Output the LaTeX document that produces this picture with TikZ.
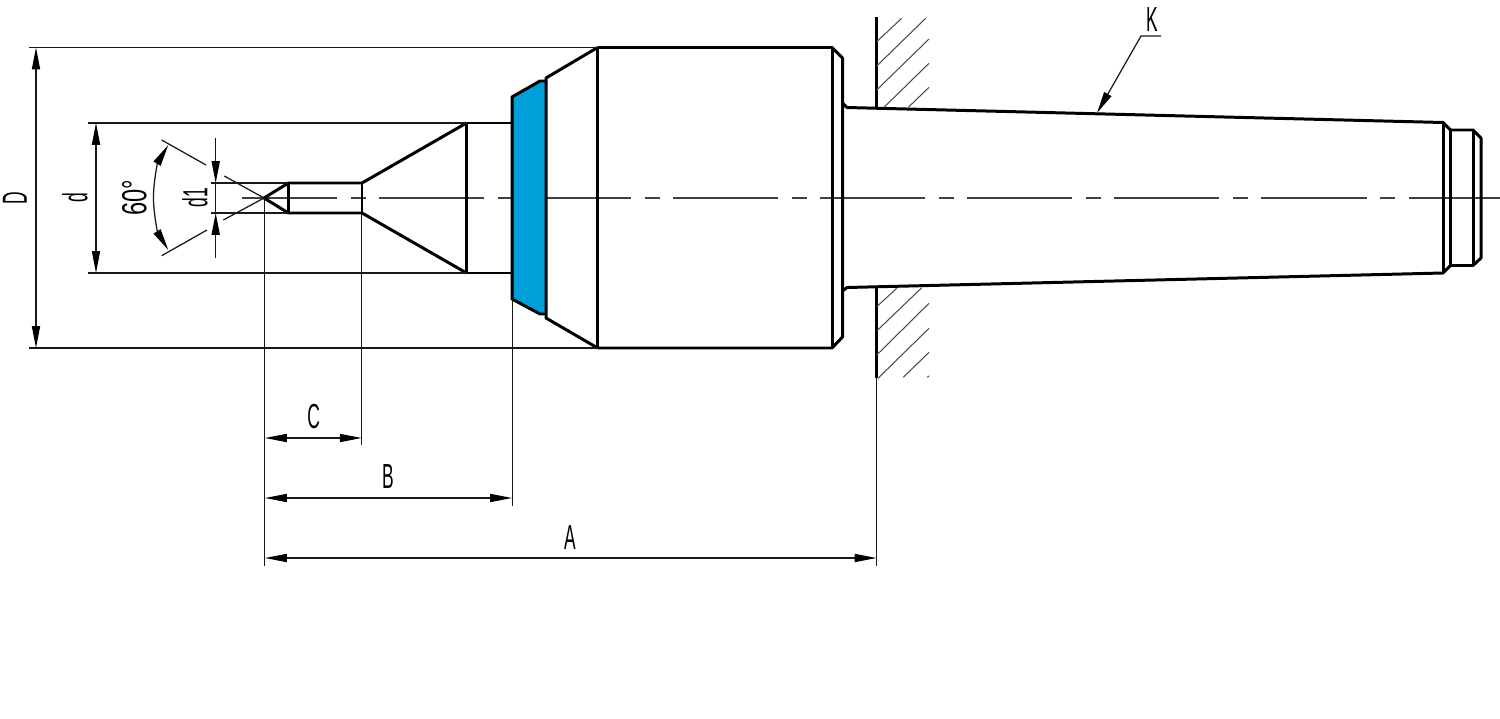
\documentclass[tikz,border=0pt]{standalone}
\usepackage{fontspec}
\setsansfont{Liberation Sans}
\usetikzlibrary{calc}
\usetikzlibrary{arrows.meta}
\definecolor{ringblue}{HTML}{009FDA}
\tikzset{
  outline/.style = {line width=0.85pt, line join=round},
  thinline/.style = {line width=0.36pt, draw=black!90},
  hatchline/.style = {line width=0.3pt, draw=black!70},
  dimarrow/.style = {thinline, {Triangle[length=6.2pt,width=2.3pt,black]}-{Triangle[length=6.2pt,width=2.3pt,black]}},
  dimtip/.style = {thinline, -{Triangle[length=6.2pt,width=2.3pt,black]}},
  axisline/.style = {line width=0.36pt, draw=black!75, dash pattern=on 29.87pt off 3.84pt on 4.27pt off 3.84pt, dash phase=2.84pt},
  dimlabel/.style = {font=\sffamily\fontsize{9.9}{12}\selectfont, xscale=0.5, inner sep=0pt},
  anglelabel/.style = {font=\sffamily\fontsize{9.9}{12}\selectfont, xscale=0.68, inner sep=0pt}
}
\begin{document}
\begin{tikzpicture}[x=0.01cm, y=-0.01cm]
  \useasboundingbox (0, 0) rectangle (1500, 718);

  % axis
  \draw[axisline] (242, 198) -- (1500, 198);

  % blue ring
  \fill[ringblue] (512, 97) -- (540, 81) -- (546, 81) -- (546, 314) -- (540, 314) -- (512, 299) -- cycle;

  % live centre, tip to flange
  \draw[outline] (466.5, 123) -- (362, 183) -- (288.4, 183) -- (264, 198) -- (288.4, 213) -- (362, 213) -- (466.5, 273);
  \draw[outline] (288.4, 183) -- (288.4, 213);
  \draw[outline] (362, 183) -- (362, 213);
  \draw[outline] (466.5, 123) -- (466.5, 273);
  \draw[outline] (466.5, 123) -- (512, 123);
  \draw[outline] (466.5, 273) -- (512, 273);
  \draw[outline] (546, 81) -- (540, 81) -- (512, 97) -- (512, 299) -- (540, 314) -- (546, 314);
  \draw[outline] (597.6, 47.5) -- (546, 78) -- (546, 318) -- (597.6, 348);
  \draw[outline] (597.6, 47.5) -- (597.6, 348);
  \draw[outline] (597.6, 47.5) -- (832, 47.5) -- (842.5, 58) -- (842.5, 337) -- (832, 348) -- (597.6, 348);
  \draw[outline] (832, 47.5) -- (832, 348);

  % taper
  \draw[outline] (842.5, 103) -- (847, 107.5) -- (1443, 122.5) -- (1450.5, 130) -- (1473, 130) -- (1481, 138) -- (1481, 258) -- (1473, 265.5) -- (1450.5, 265.5) -- (1443, 273) -- (847, 287.5) -- (842.5, 291);
  \draw[outline] (1443, 122.5) -- (1443, 273);
  \draw[outline] (1450.5, 130) -- (1450.5, 265.5);
  \draw[outline] (1473, 130) -- (1473, 265.5);

  % wall
  \draw[outline] (876.5, 17) -- (876.5, 107.5);
  \draw[outline] (876.5, 288) -- (876.5, 378);
  \foreach \xa/\ya/\xb/\yb in {
    876.7/41.7/901.7/18.3, 876.7/66/925.7/18.3, 876.7/90/929/39,
    884/107.3/929/63.3, 908.3/107.3/929/87.3,
    876.7/306.7/896.7/288.3, 876.7/331/921.7/287.7, 876.7/355/929/303.3,
    878/378.3/929/328.3, 903.3/377.3/929/352.3, 927.3/377.3/929/376}
    \draw[hatchline] (\xa, \ya) -- (\xb, \yb);

  % extension lines
  \draw[thinline] (29, 47.5) -- (597.6, 47.5);
  \draw[thinline] (29, 348) -- (597.6, 348);
  \draw[thinline] (88, 123) -- (466.5, 123);
  \draw[thinline] (88, 273) -- (466.5, 273);
  \draw[thinline] (211, 183) -- (288.4, 183);
  \draw[thinline] (211, 213) -- (288.4, 213);
  \draw[thinline] (264.5, 198) -- (264.5, 566);
  \draw[thinline] (361.7, 213) -- (361.7, 445);
  \draw[thinline] (512.5, 299) -- (512.5, 506);
  \draw[thinline] (876.5, 378) -- (876.5, 566);

  % cone lines
  \coordinate (T1) at (264, 198);
  \draw[thinline] (224.3, 176) -- (T1) -- (223.3, 220);
  \draw[thinline] (161.7, 140) -- (206, 165);
  \draw[thinline] (161.7, 255.7) -- (207, 230);

  % dimensions
  \draw[dimarrow] (36, 47.5) -- (36, 348);
  \draw[dimarrow] (96, 123) -- (96, 273);
  \draw[dimtip] (215.7, 137.7) -- (215.7, 183);
  \draw[dimtip] (215.7, 257.7) -- (215.7, 213);
  \draw[thinline] (215.7, 183) -- (215.7, 213);
  \draw[dimarrow] (265, 438) -- (361.7, 438);
  \draw[dimarrow] (265, 498) -- (512, 498);
  \draw[dimarrow] (265, 558) -- (876.5, 558);
  \draw[dimarrow] (168.3, 145) .. controls (158, 162) and (153.5, 180) .. (153.5, 197.5) .. controls (153.5, 215) and (158, 233) .. (168.3, 250);

  % leader
  \draw[dimtip] (1161, 36) -- (1141, 36) -- (1097, 113);

  \node[dimlabel] (labK) at (1152, 19.5) {K};
  \node[rotate=90, dimlabel] (labD) at (15, 198) {D};
  \node[rotate=90, dimlabel] (labd) at (75, 198) {d};
  \node[rotate=90, anglelabel] (lab60) at (134.5, 197.5) {60°};
  \node[rotate=90, dimlabel] (labdone) at (195, 197.5) {d1};
  \node[dimlabel] (labC) at (313.7, 417) {C};
  \node[dimlabel] (labB) at (388, 477) {B};
  \node[dimlabel] (labA) at (570, 538) {A};
\end{tikzpicture}
\end{document}
